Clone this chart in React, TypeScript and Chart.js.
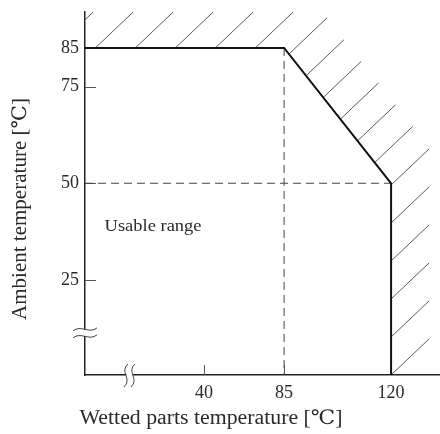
import React, { useEffect, useRef } from 'react';
import { Chart, registerables, LinearScale } from 'chart.js';

Chart.register(...registerables);

// ---------------- data ----------------
const X_MIN = -27; // left end of the broken wetted-parts axis
const X_MAX = 136;
const Y_MIN = 0.4;
const Y_MAX = 94.3;

const xTicks = [40, 85, 120];
const yTicks = [25, 50, 75, 85];

// operating limit (boundary of the usable range)
const limitWetted = [X_MIN, 85, 120, 120];
const limitAmbient = [85, 85, 50, Y_MIN];

// dashed guide lines
const guideVWetted = [85, 85];
const guideVAmbient = [85, Y_MIN];
const guideHWetted = [X_MIN, 120];
const guideHAmbient = [50, 50];

// axis break positions (values)
const X_BREAK = -2;
const Y_BREAK = 11.3;

const xTitle = 'Wetted parts temperature [℃]';
const yTitle = 'Ambient temperature [℃]';
const regionText = 'Usable range';
const regionAt = { wetted: -16, ambient: 38.8 };

// ---------------- broken x scale ----------------
const BREAK_AT = 85;
const COMPRESS = 0.5815;
const warp = (t: number) => (t >= BREAK_AT ? t : BREAK_AT - (BREAK_AT - t) * COMPRESS);
const unwarp = (u: number) => (u >= BREAK_AT ? u : BREAK_AT - (BREAK_AT - u) / COMPRESS);

class BrokenScale extends LinearScale {
  static id = 'brokenLinear';
  static defaults = LinearScale.defaults;
  getPixelForValue(v: any) {
    if (v === null || v === undefined) return NaN;
    const a = warp(this.min);
    const b = warp(this.max);
    return this.getPixelForDecimal((warp(v) - a) / (b - a));
  }
  getValueForPixel(p: number) {
    const a = warp(this.min);
    const b = warp(this.max);
    return unwarp(a + this.getDecimalForPixel(p) * (b - a));
  }
}
Chart.register(BrokenScale as any);

const toPts = (xs: number[], ys: number[]) => xs.map((x, i) => ({ x, y: ys[i] }));

// ---------------- styles ----------------
const SERIF = "'Liberation Serif', 'DejaVu Serif', serif";
const TEXT = '#2a2a2a';
const HATCH_SLOPE = 0.95;
const HATCH_STEP = 38;
const HATCH_DX = 38;

function drawFitText(ctx: CanvasRenderingContext2D, text: string, cx: number, cy: number, size: number, target: number, rot: number) {
  ctx.save();
  ctx.font = `${size}px ${SERIF}`;
  const w = ctx.measureText(text).width;
  const k = target / w;
  ctx.translate(cx, cy);
  ctx.rotate(rot);
  ctx.scale(k, 1);
  ctx.fillStyle = TEXT;
  ctx.textAlign = 'center';
  ctx.textBaseline = 'middle';
  ctx.fillText(text, 0, 0);
  ctx.restore();
}

const decor = {
  id: 'decor',
  beforeDatasetsDraw(chart: any) {
    const { ctx, chartArea: ca, scales } = chart;
    const xs = scales.x;
    const ys = scales.y;
    const pts = limitWetted.map((w, i) => ({ x: xs.getPixelForValue(w), y: ys.getPixelForValue(limitAmbient[i]) }));
    ctx.save();
    ctx.beginPath();
    ctx.rect(ca.left, ca.top, ca.right - ca.left, ca.bottom - ca.top);
    ctx.clip();
    ctx.strokeStyle = '#5a5a5a';
    ctx.lineWidth = 1;
    ctx.setLineDash([]);
    const s = HATCH_SLOPE;
    const last = pts[pts.length - 1];
    const c0 = s * last.x + last.y;
    for (let k = 0; k < 60; k++) {
      const c = c0 - k * HATCH_STEP;
      for (let i = 0; i < pts.length - 1; i++) {
        const A = pts[i];
        const B = pts[i + 1];
        const den = s * (B.x - A.x) + (B.y - A.y);
        if (Math.abs(den) < 1e-9) continue;
        const t = (c - (s * A.x + A.y)) / den;
        const lo = i === 0 ? -10 : 0;
        const hiOk = i === pts.length - 2 ? t <= 1 + 1e-6 : t < 1;
        if (t >= lo && hiOk) {
          const px = A.x + t * (B.x - A.x);
          const py = A.y + t * (B.y - A.y);
          ctx.beginPath();
          ctx.moveTo(px, py);
          ctx.lineTo(px + HATCH_DX, py - s * HATCH_DX);
          ctx.stroke();
          break;
        }
      }
    }
    ctx.restore();

    // inward tick marks
    ctx.save();
    ctx.strokeStyle = '#555';
    ctx.lineWidth = 1;
    yTicks.forEach((v) => {
      const py = Math.round(ys.getPixelForValue(v)) + 0.5;
      ctx.beginPath();
      ctx.moveTo(ca.left, py);
      ctx.lineTo(ca.left + 11, py);
      ctx.stroke();
    });
    xTicks.forEach((v) => {
      const px = Math.round(xs.getPixelForValue(v)) + 0.5;
      ctx.beginPath();
      ctx.moveTo(px, ca.bottom);
      ctx.lineTo(px, ca.bottom - 10);
      ctx.stroke();
    });
    ctx.restore();
  },
  afterDraw(chart: any) {
    const { ctx, chartArea: ca, scales } = chart;
    const xs = scales.x;
    const ys = scales.y;

    // y axis break
    ctx.save();
    const by = ys.getPixelForValue(Y_BREAK);
    ctx.fillStyle = '#fff';
    ctx.fillRect(ca.left - 2, by - 3, 4, 6);
    ctx.strokeStyle = '#444';
    ctx.lineWidth = 1;
    [-3.5, 3.5].forEach((o) => {
      const yc = by + o;
      const x0 = ca.left - 12;
      ctx.beginPath();
      ctx.moveTo(x0, yc + 1.5);
      ctx.bezierCurveTo(x0 + 8, yc - 5, x0 + 16, yc + 5, x0 + 24, yc - 1.5);
      ctx.stroke();
    });
    // x axis break
    const bx = xs.getPixelForValue(X_BREAK);
    ctx.fillStyle = '#fff';
    ctx.fillRect(bx - 3, ca.bottom - 2, 6, 4);
    [-3.5, 3.5].forEach((o) => {
      const xc = bx + o;
      const y0 = ca.bottom - 11;
      ctx.beginPath();
      ctx.moveTo(xc + 2, y0);
      ctx.bezierCurveTo(xc - 7, y0 + 8, xc + 7, y0 + 15, xc - 2, y0 + 23);
      ctx.stroke();
    });
    ctx.restore();

    // texts
    drawFitText(ctx, xTitle, ca.left + 126, ca.bottom + 44, 20, 263, 0);
    drawFitText(ctx, yTitle, ca.left - 64, ca.top + 197, 20, 222, -Math.PI / 2);
    ctx.save();
    ctx.font = `17px ${SERIF}`;
    const lw = ctx.measureText(regionText).width;
    const k = 97 / lw;
    ctx.translate(xs.getPixelForValue(regionAt.wetted), ys.getPixelForValue(regionAt.ambient));
    ctx.scale(k, 1);
    ctx.fillStyle = TEXT;
    ctx.textAlign = 'left';
    ctx.textBaseline = 'middle';
    ctx.fillText(regionText, 0, 0);
    ctx.restore();
  },
};

export default function App() {
  const ref = useRef<HTMLCanvasElement>(null);
  useEffect(() => {
    document.body.style.margin = '0';
    const tickFont = { family: SERIF, size: 18 };
    const chart = new Chart(ref.current!, {
      type: 'line',
      data: {
        datasets: [
          {
            data: toPts(limitWetted, limitAmbient),
            borderColor: '#111',
            borderWidth: 2,
            pointRadius: 0,
            borderJoinStyle: 'miter',
            fill: false,
          },
          {
            data: toPts(guideVWetted, guideVAmbient),
            borderColor: '#444',
            borderWidth: 1,
            borderDash: [8, 5],
            pointRadius: 0,
            fill: false,
          },
          {
            data: toPts(guideHWetted, guideHAmbient),
            borderColor: '#444',
            borderWidth: 1,
            borderDash: [8, 5],
            pointRadius: 0,
            fill: false,
          },
        ],
      } as any,
      options: {
        animation: false,
        responsive: true,
        maintainAspectRatio: false,
        layout: { padding: { top: 12, left: 0, right: 0, bottom: 0 } },
        plugins: { legend: { display: false }, tooltip: { enabled: false } },
        scales: {
          x: {
            type: 'brokenLinear' as any,
            min: X_MIN,
            max: X_MAX,
            grid: { display: false, drawTicks: false },
            border: { display: true, color: '#222', width: 1.5 },
            ticks: {
              font: tickFont,
              color: TEXT,
              padding: 7,
              maxRotation: 0,
              autoSkip: false,
              callback: (v: any) => String(v),
            },
            afterBuildTicks: (s: any) => {
              s.ticks = xTicks.map((v) => ({ value: v }));
            },
            afterFit: (s: any) => {
              s.height = 59;
              s.paddingLeft = 0;
              s.paddingRight = 0;
            },
          },
          y: {
            type: 'linear',
            min: Y_MIN,
            max: Y_MAX,
            grid: { display: false, drawTicks: false },
            border: { display: true, color: '#222', width: 1.5 },
            ticks: {
              font: tickFont,
              color: TEXT,
              padding: 6,
              autoSkip: false,
              callback: (v: any) => String(v),
            },
            afterBuildTicks: (s: any) => {
              s.ticks = yTicks.map((v) => ({ value: v }));
            },
            afterFit: (s: any) => {
              s.width = 85;
              s.paddingTop = 0;
              s.paddingBottom = 0;
            },
          },
        } as any,
      },
      plugins: [decor],
    });
    return () => chart.destroy();
  }, []);
  return (
    <div style={{ position: 'relative', width: 440, height: 434 }}>
      <canvas ref={ref} />
    </div>
  );
}
